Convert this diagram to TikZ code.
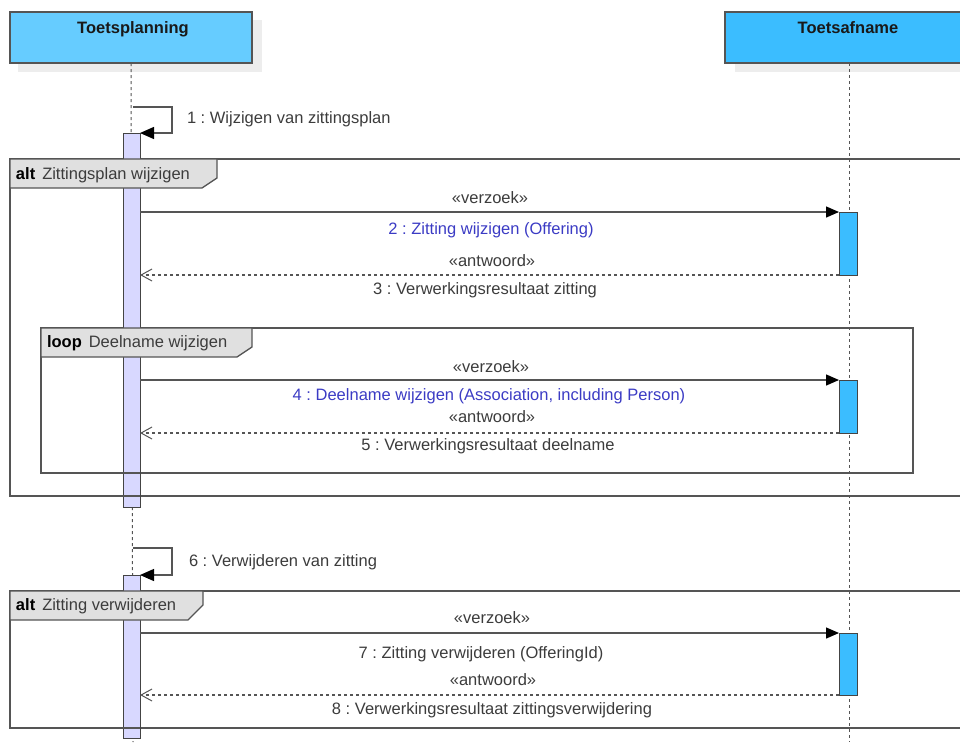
\documentclass[tikz,border=0pt]{standalone}
\usepackage{fontspec}
\setmainfont{Liberation Sans}
\usetikzlibrary{arrows.meta}
\definecolor{headA}{HTML}{66CCFF}
\definecolor{headB}{HTML}{3BBDFF}
\definecolor{actA}{HTML}{D8D8FF}
\definecolor{tabgray}{HTML}{E0E0E0}
\definecolor{linegray}{HTML}{555555}
\definecolor{txtgray}{HTML}{3C3C3C}
\definecolor{msgblue}{HTML}{3B3BC4}
\definecolor{shadowgray}{HTML}{EDEDED}
\frenchspacing
\begin{document}
\begin{tikzpicture}[x=1pt,y=-1pt,
  every node/.style={inner sep=0pt, outer sep=0pt},
  fnt/.style={font=\fontsize{16.5}{20}\selectfont},
  lbl/.style={fnt, text=txtgray, anchor=base},
  bluelbl/.style={fnt, text=msgblue, anchor=base},
  sidelbl/.style={fnt, text=txtgray, anchor=base west},
  headbox/.style={draw=linegray, line width=1.2pt, anchor=north west, minimum height=51pt},
  headtxt/.style={font=\fontsize{16.5}{20}\selectfont\bfseries, text=black!90, anchor=base},
  actbox/.style={draw=linegray!80!black, line width=1pt, anchor=north west, minimum width=17pt},
  lifeline/.style={draw=linegray, line width=1pt, dash pattern=on 3pt off 3pt},
  msg/.style={draw=linegray, line width=1.3pt, -{Triangle[length=13pt,width=11pt,black]}},
  selfmsg/.style={draw=linegray, line width=1.3pt, -{Triangle[length=14pt,width=12pt,black]}},
  ret/.style={draw=linegray, line width=1.2pt, dash pattern=on 3pt off 3pt, -{Straight Barb[length=11pt,width=12pt,line width=1pt]}},
  frame/.style={draw=linegray, line width=1.3pt},
  tab/.style={draw=linegray, line width=1.3pt, fill=tabgray}
]
\useasboundingbox (0,0) rectangle (960,742);
\clip (0,0) rectangle (960,742);

% shadows
\fill[shadowgray] (18,20) rectangle (262,72);
\fill[shadowgray] (735,20) rectangle (985,72);

% heads
\node[headbox, fill=headA, minimum width=242pt] (h1) at (10,12) {};
\node[headtxt] (h1t) at (133,33.5) {Toetsplanning};
\node[headbox, fill=headB, minimum width=246pt] (h2) at (725,12) {};
\node[headtxt] (h2t) at (848,33.5) {Toetsafname};

% lifelines
\coordinate (l1end) at (133,742);
\coordinate (l2end) at (849,742);
\draw[lifeline] (h1.south) -- (l1end);
\draw[lifeline] (h1.south -| l2end) -- (l2end);

% frames (drawn before activations)
\draw[frame] (10,159) rectangle (990,496);
\draw[frame] (41,328) rectangle (913,473);
\draw[frame] (10,591) rectangle (990,728);

% activations
\node[actbox, fill=actA, minimum height=374pt] (a1) at (123,133) {};
\node[actbox, fill=actA, minimum height=163pt] (a2) at (123,575) {};
\node[actbox, fill=headB, minimum width=18pt, minimum height=63pt] (b1) at (839,212) {};
\node[actbox, fill=headB, minimum width=18pt, minimum height=53pt] (b2) at (839,380) {};
\node[actbox, fill=headB, minimum width=18pt, minimum height=62pt] (b3) at (839,633) {};

% frame lines crossing the activations
\draw[frame] (123,496) -- (140,496);
\draw[frame] (123,473) -- (140,473);
\draw[frame] (123,728) -- (140,728);

% tabs
\draw[tab] (10,159) -- (217,159) -- (217,178) -- (202,188) -- (10,188) -- cycle;
\draw[tab] (41,328) -- (252,328) -- (252,347) -- (237,357) -- (41,357) -- cycle;
\draw[tab] (10,591) -- (203,591) -- (203,605) -- (188,620) -- (10,620) -- cycle;
\node[fnt, anchor=base west] (t1) at (16,179) {\textbf{alt}\hspace{7pt}\textcolor{txtgray}{Zittingsplan wijzigen}};
\node[fnt, anchor=base west] (t2) at (47,347) {\textbf{loop}\hspace{7pt}\textcolor{txtgray}{Deelname wijzigen}};
\node[fnt, anchor=base west] (t3) at (16,610) {\textbf{alt}\hspace{7pt}\textcolor{txtgray}{Zitting verwijderen}};

% self message 1
\coordinate (s1a) at (133,107);
\draw[selfmsg] (s1a) -- ++(39,0) |- (a1.north east);
\node[sidelbl] (m1) at (187,123.5) {1 : Wijzigen van zittingsplan};

% message 2 / 3
\coordinate (m2s) at (a1.east |- b1.north west);
\draw[msg] (m2s) -- (b1.north west);
\node[lbl] (v2) at (490,203) {«verzoek»};
\node[bluelbl] (m2) at (491,234.5) {2 : Zitting wijzigen (Offering)};
\coordinate (m3e) at (a1.east |- b1.south west);
\draw[ret] (b1.south west) -- (m3e);
\node[lbl] (w3) at (492,266) {«antwoord»};
\node[lbl] (m3) at (485,294) {3 : Verwerkingsresultaat zitting};

% message 4 / 5
\coordinate (m4s) at (a1.east |- b2.north west);
\draw[msg] (m4s) -- (b2.north west);
\node[lbl] (v4) at (491,372) {«verzoek»};
\node[bluelbl] (m4) at (489,400) {4 : Deelname wijzigen (Association, including Person)};
\coordinate (m5e) at (a1.east |- b2.south west);
\draw[ret] (b2.south west) -- (m5e);
\node[lbl] (w5) at (492,422.5) {«antwoord»};
\node[lbl] (m5) at (488,450.5) {5 : Verwerkingsresultaat deelname};

% self message 6
\coordinate (s6a) at (133,548);
\draw[selfmsg] (s6a) -- ++(39,0) |- (a2.north east);
\node[sidelbl] (m6) at (189,566) {6 : Verwijderen van zitting};

% message 7 / 8
\coordinate (m7s) at (a2.east |- b3.north west);
\draw[msg] (m7s) -- (b3.north west);
\node[lbl] (v7) at (492,623) {«verzoek»};
\node[lbl] (m7) at (481,658) {7 : Zitting verwijderen (OfferingId)};
\coordinate (m8e) at (a2.east |- b3.south west);
\draw[ret] (b3.south west) -- (m8e);
\node[lbl] (w8) at (493,685) {«antwoord»};
\node[lbl] (m8) at (492,714.5) {8 : Verwerkingsresultaat zittingsverwijdering};
\end{tikzpicture}
\end{document}
